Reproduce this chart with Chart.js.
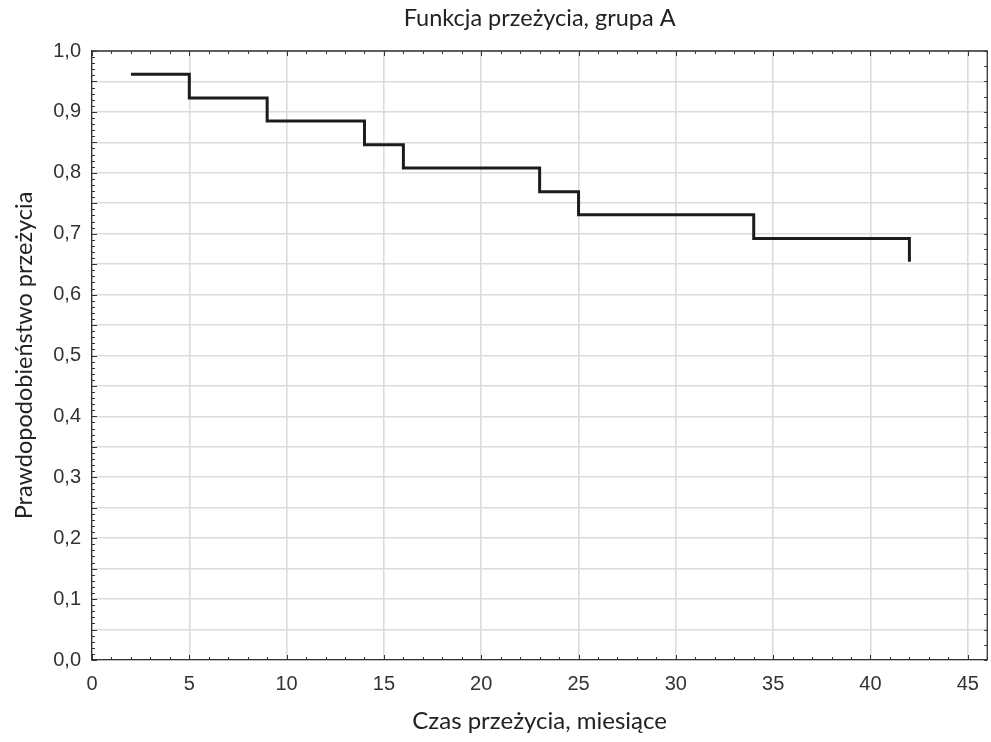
<!DOCTYPE html>
<html>
<head>
<meta charset="utf-8">
<script src="https://cdn.jsdelivr.net/npm/chart.js@4.4.1/dist/chart.umd.min.js"></script>
<style>
  html, body { margin: 0; padding: 0; background: #fff; }
  #wrap { width: 991px; height: 742px; }
</style>
</head>
<body>
<div id="wrap"><canvas id="c" width="991" height="742"></canvas></div>
<script>
// Kaplan-Meier survival estimate, group A
const times = [2, 5, 9, 14, 16, 23, 25, 34, 42];
const survival = [0.962, 0.923, 0.885, 0.846, 0.808, 0.769, 0.731, 0.692, 0.654];
const xTickValues = [0, 5, 10, 15, 20, 25, 30, 35, 40, 45];
const yTickValues = [0, 0.1, 0.2, 0.3, 0.4, 0.5, 0.6, 0.7, 0.8, 0.9, 1.0];
const titleText = 'Funkcja przeżycia, grupa A';
const xTitle = 'Czas przeżycia, miesiące';
const yTitle = 'Prawdopodobieństwo przeżycia';

const points = times.map((t, i) => ({ x: t, y: survival[i] }));

const frameTicks = {
  id: 'frameTicks',
  afterDatasetsDraw(chart) {
    const { ctx, chartArea: a, scales } = chart;
    const xs = scales.x, ys = scales.y;
    ctx.save();
    ctx.strokeStyle = '#333';
    ctx.lineWidth = 1.3;
    ctx.beginPath();
    ctx.moveTo(a.left, a.top); ctx.lineTo(a.right, a.top); ctx.lineTo(a.right, a.bottom);
    ctx.stroke();
    ctx.lineWidth = 1;
    ctx.beginPath();
    for (let v = 0; v <= 46; v++) {
      const px = Math.round(xs.getPixelForValue(v)) + 0.5;
      const len = v % 5 === 0 ? 5 : 3;
      ctx.moveTo(px, a.bottom); ctx.lineTo(px, a.bottom - len);
      ctx.moveTo(px, a.top); ctx.lineTo(px, a.top + len);
    }
    for (let k = 0; k <= 100; k++) {
      const py = Math.round(ys.getPixelForValue(k / 100)) + 0.5;
      const len = k % 5 === 0 ? 5 : 3;
      ctx.moveTo(a.left, py); ctx.lineTo(a.left + len, py);
    }
    for (let k = 0; k <= 40; k++) {
      const py = Math.round(ys.getPixelForValue(k / 40)) + 0.5;
      ctx.moveTo(a.right, py); ctx.lineTo(a.right - 3, py);
    }
    ctx.stroke();
    ctx.restore();
  }
};

new Chart(document.getElementById('c'), {
  type: 'line',
  data: {
    datasets: [{
      data: points,
      stepped: true,
      borderColor: '#1c1c1c',
      borderWidth: 3,
      pointRadius: 0,
      fill: false,
      borderCapStyle: 'butt',
      borderJoinStyle: 'miter'
    }]
  },
  options: {
    responsive: false,
    animation: false,
    devicePixelRatio: 1,
    layout: { padding: { left: 0, right: 2, top: 0, bottom: 0 } },
    plugins: {
      legend: { display: false },
      tooltip: { enabled: false },
      title: {
        display: true,
        fullSize: false,
        text: titleText,
        color: '#222',
        font: { family: 'Lato', size: 23.5, weight: 'normal', lineHeight: 1.2 },
        padding: { top: 4, bottom: 18.8 }
      }
    },
    scales: {
      x: {
        type: 'linear',
        min: 0,
        max: 46,
        afterFit(s) { s.height = 82; },
        afterBuildTicks(s) { s.ticks = xTickValues.map(v => ({ value: v })); },
        ticks: {
          color: '#333',
          font: { family: 'Liberation Sans', size: 20 },
          padding: 12,
          maxRotation: 0,
          callback: v => String(v)
        },
        grid: { color: '#dcdcdc', lineWidth: 1.6, drawTicks: false },
        border: { display: true, color: '#333', width: 1.3 },
        title: {
          display: true,
          text: xTitle,
          color: '#222',
          font: { family: 'Lato', size: 24, lineHeight: 1.2 },
          padding: { top: 0, bottom: 6 }
        }
      },
      y: {
        type: 'linear',
        min: 0,
        max: 1,
        afterFit(s) { s.width = 92; },
        afterBuildTicks(s) {
          const t = [];
          for (let k = 0; k <= 20; k++) t.push({ value: k / 20 });
          s.ticks = t;
        },
        ticks: {
          color: '#333',
          font: { family: 'Liberation Sans', size: 20 },
          padding: 11,
          callback: v => {
            const k = Math.round(v * 20);
            if (k % 2 !== 0) return '';
            return (k / 20).toFixed(1).replace('.', ',');
          }
        },
        grid: { color: '#dcdcdc', lineWidth: 1.6, drawTicks: false },
        border: { display: true, color: '#333', width: 1.3 },
        title: {
          display: true,
          text: yTitle,
          color: '#222',
          font: { family: 'Lato', size: 23.5, lineHeight: 1.2 },
          padding: { top: 10, bottom: 0 }
        }
      }
    }
  },
  plugins: [frameTicks]
});
</script>
</body>
</html>
